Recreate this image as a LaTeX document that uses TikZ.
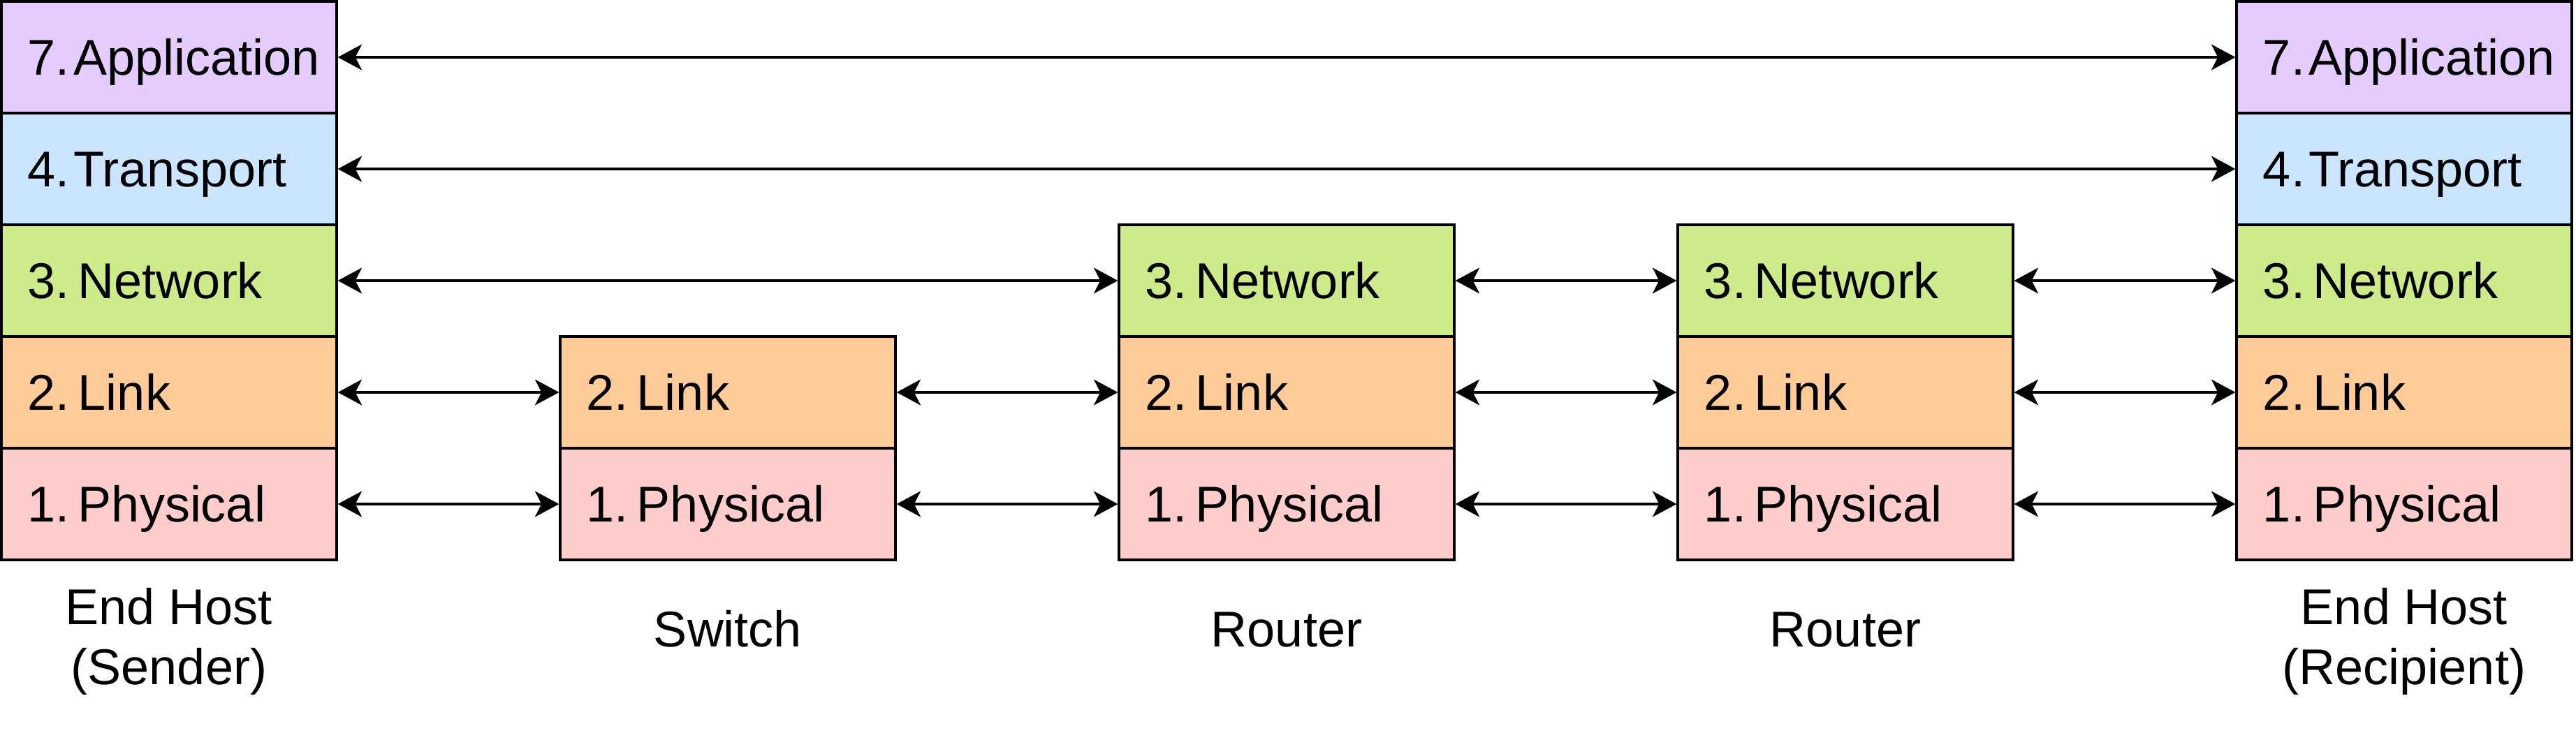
\documentclass[tikz,border=0pt]{standalone}
\usepackage{fontspec}
\setmainfont{Liberation Sans}
\usetikzlibrary{arrows.meta}
\definecolor{appc}{HTML}{E5CCFF}
\definecolor{trc}{HTML}{CCE5FF}
\definecolor{netc}{HTML}{CDEB8B}
\definecolor{lnkc}{HTML}{FFCC99}
\definecolor{phyc}{HTML}{FFCCCC}
\newcommand\layertext[3]{\hspace*{9.5pt}\makebox[15pt][r]{#1}\hspace*{#3}#2}
\tikzset{
  layerbox/.style={draw=black, line width=0.8pt, minimum width=120pt, minimum height=40pt,
    inner sep=0pt, text width=120pt, align=left, text height=12.9pt, text depth=0pt,
    font=\fontsize{18}{21.6}\selectfont},
  appbox/.style={layerbox, fill=appc},
  trbox/.style={layerbox, fill=trc},
  netbox/.style={layerbox, fill=netc},
  lnkbox/.style={layerbox, fill=lnkc},
  phybox/.style={layerbox, fill=phyc},
  biarrow/.style={line width=0.8pt,
    {Stealth[length=8.6pt,width=9.2pt,inset=2.3pt]}-{Stealth[length=8.6pt,width=9.2pt,inset=2.3pt]}},
  devlabel/.style={font=\fontsize{18}{21.6}\selectfont, align=center, inner sep=0pt}
}
\begin{document}
\begin{tikzpicture}[x=1pt,y=-1pt]
\path[fill=white] (0,0) rectangle (922,265);
\useasboundingbox (0,0) rectangle (922,265);

% End host (sender)
\node[appbox] (a1) at (60.5,20.5) {\layertext{7.}{Application}{1.3pt}};
\node[trbox]  (t1) at (60.5,60.5) {\layertext{4.}{Transport}{1.3pt}};
\node[netbox] (n1) at (60.5,100.5) {\layertext{3.}{Network}{3pt}};
\node[lnkbox] (l1) at (60.5,140.5) {\layertext{2.}{Link}{3pt}};
\node[phybox] (p1) at (60.5,180.5) {\layertext{1.}{Physical}{3pt}};

% Switch
\node[lnkbox] (l2) at (260.5,140.5) {\layertext{2.}{Link}{3pt}};
\node[phybox] (p2) at (260.5,180.5) {\layertext{1.}{Physical}{3pt}};

% Router 1
\node[netbox] (n3) at (460.5,100.5) {\layertext{3.}{Network}{3pt}};
\node[lnkbox] (l3) at (460.5,140.5) {\layertext{2.}{Link}{3pt}};
\node[phybox] (p3) at (460.5,180.5) {\layertext{1.}{Physical}{3pt}};

% Router 2
\node[netbox] (n4) at (660.5,100.5) {\layertext{3.}{Network}{3pt}};
\node[lnkbox] (l4) at (660.5,140.5) {\layertext{2.}{Link}{3pt}};
\node[phybox] (p4) at (660.5,180.5) {\layertext{1.}{Physical}{3pt}};

% End host (recipient)
\node[appbox] (a5) at (860.5,20.5) {\layertext{7.}{Application}{1.3pt}};
\node[trbox]  (t5) at (860.5,60.5) {\layertext{4.}{Transport}{1.3pt}};
\node[netbox] (n5) at (860.5,100.5) {\layertext{3.}{Network}{3pt}};
\node[lnkbox] (l5) at (860.5,140.5) {\layertext{2.}{Link}{3pt}};
\node[phybox] (p5) at (860.5,180.5) {\layertext{1.}{Physical}{3pt}};

% Device labels
\node[devlabel, anchor=north] (c1) at (60.5,210.3) {End Host\\(Sender)};
\node[devlabel, anchor=base]  (c2) at (260.5,231.5) {Switch};
\node[devlabel, anchor=base]  (c3) at (460.5,231.5) {Router};
\node[devlabel, anchor=base]  (c4) at (660.5,231.5) {Router};
\node[devlabel, anchor=north] (c5) at (860.5,210.3) {End Host\\(Recipient)};

% Peer connections
\draw[biarrow] (a1.east) -- (a5.west);
\draw[biarrow] (t1.east) -- (t5.west);
\draw[biarrow] (n1.east) -- (n3.west);
\draw[biarrow] (n3.east) -- (n4.west);
\draw[biarrow] (n4.east) -- (n5.west);
\draw[biarrow] (l1.east) -- (l2.west);
\draw[biarrow] (l2.east) -- (l3.west);
\draw[biarrow] (l3.east) -- (l4.west);
\draw[biarrow] (l4.east) -- (l5.west);
\draw[biarrow] (p1.east) -- (p2.west);
\draw[biarrow] (p2.east) -- (p3.west);
\draw[biarrow] (p3.east) -- (p4.west);
\draw[biarrow] (p4.east) -- (p5.west);
\end{tikzpicture}
\end{document}
